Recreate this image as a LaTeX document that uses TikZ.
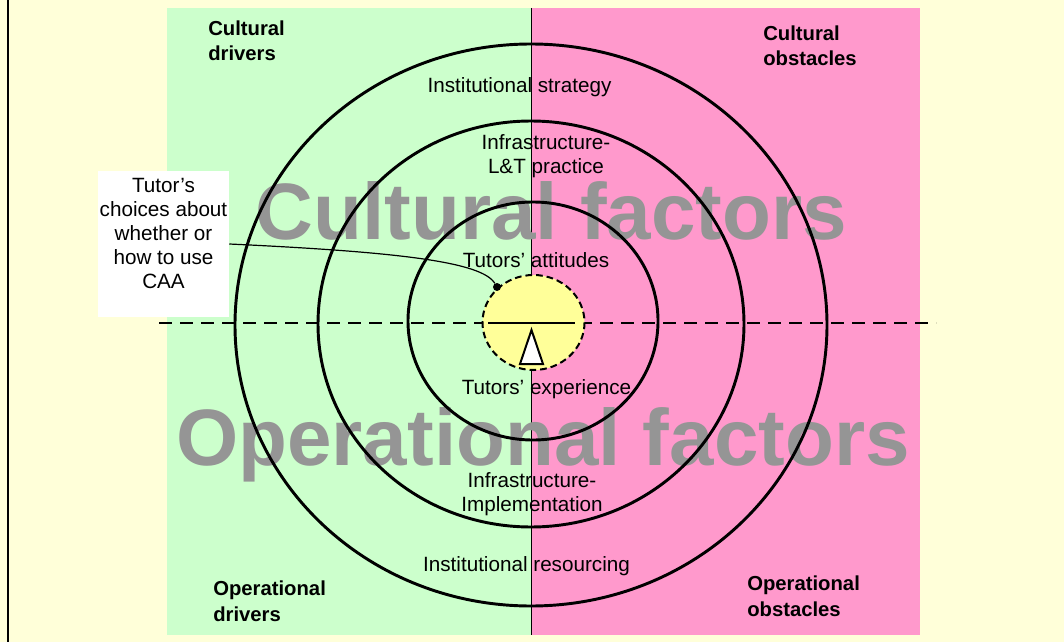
\documentclass[tikz,border=0pt]{standalone}
\usepackage{fontspec}
\setmainfont{Liberation Sans}
\usetikzlibrary{positioning}
\definecolor{bgyellow}{HTML}{FFFFD9}
\definecolor{drivergreen}{HTML}{CCFFCC}
\definecolor{obstaclepink}{HTML}{FF99CC}
\definecolor{coreyellow}{HTML}{FFFF99}
\definecolor{factorgray}{HTML}{959595}
\tikzstyle{ring}=[draw,line width=2.2pt]
\tikzstyle{splitline}=[draw,line width=2.2pt,dash pattern=on 9.75pt off 6pt]
\tikzstyle{ringlabel}=[inner sep=0pt,anchor=base,align=center,font=\fontsize{15.5}{17.5}\selectfont]
\tikzstyle{corner}=[inner sep=0pt,anchor=base west,align=left,font=\fontsize{15.2}{18.8}\selectfont\bfseries]
\tikzstyle{bigtext}=[inner sep=0pt,anchor=base,text=factorgray,font=\fontsize{60}{60}\selectfont\bfseries]

\begin{document}
\begin{tikzpicture}[x=0.75pt,y=-0.75pt]
    \useasboundingbox (0,0) rectangle (1064,642);
    \fill[bgyellow] (0,0) rectangle (1064,642);
    \draw[line width=1pt] (8,0) -- (8,642);
    \fill[drivergreen] (167,8) rectangle (531,635);
    \fill[obstaclepink] (531,8) rectangle (920,635);
    \draw[line width=0.75pt] (531,8) -- (531,635);

    \node[bigtext] (cultural) at (551.5,239) {Cultural factors};
    \node[bigtext] (operational) at (543,465) {Operational factors};

    \draw[ring] (531,325) ellipse [x radius=296, y radius=281];
    \draw[ring] (531,324) ellipse [x radius=213, y radius=203];
    \draw[ring] (533,321) ellipse [x radius=125, y radius=119];

    \coordinate (splitl) at (159,323);
    \coordinate (splitr) at (936,323);
    \draw[splitline] (splitl) -- (splitr);

    \coordinate (core) at (533.5,322.5);
    \draw[fill=coreyellow, line width=1.5pt, dash pattern=on 5pt off 3pt] (core) ellipse [x radius=51, y radius=47.5];
    \draw[line width=1.5pt] (488,323) -- (575,323);
    \draw[line width=1.5pt, fill=white] (531.5,330) -- (543,364) -- (520,364) -- cycle;

    \node[ringlabel] (strategy) at (519.5,93) {Institutional strategy};
    \node[ringlabel] (practice) at (546,173) {Infrastructure-\\L\&T practice};
    \node[ringlabel] (attitudes) at (536,267) {Tutors’ attitudes};
    \node[ringlabel] (experience) at (546.5,394) {Tutors’ experience};
    \node[ringlabel] (implementation) at (532,511) {Infrastructure-\\Implementation};
    \node[ringlabel] (resourcing) at (526.5,571) {Institutional resourcing};

    \node[corner] (cdrivers) at (208,61) {Cultural\\drivers};
    \node[corner] (cobstacles) at (763,66) {Cultural\\obstacles};
    \node[corner] (odrivers) at (213,621) {Operational\\drivers};
    \node[corner] (oobstacles) at (747,616) {Operational\\obstacles};

    \node[fill=white, minimum width=98.25pt, minimum height=109.5pt, inner sep=0pt] (choicebox) at (163.5,244) {};
    \node[ringlabel, font=\fontsize{15.5}{18}\selectfont] (choice) at (163.5,288) {Tutor’s\\choices about\\whether or\\how to use\\CAA};
    \node[circle, fill, inner sep=0pt, minimum size=6pt] (pin) at (497,287) {};
    \draw[line width=0.9pt] (choicebox.east) .. controls (400,252) and (482,262) .. (pin);
\end{tikzpicture}
\end{document}
